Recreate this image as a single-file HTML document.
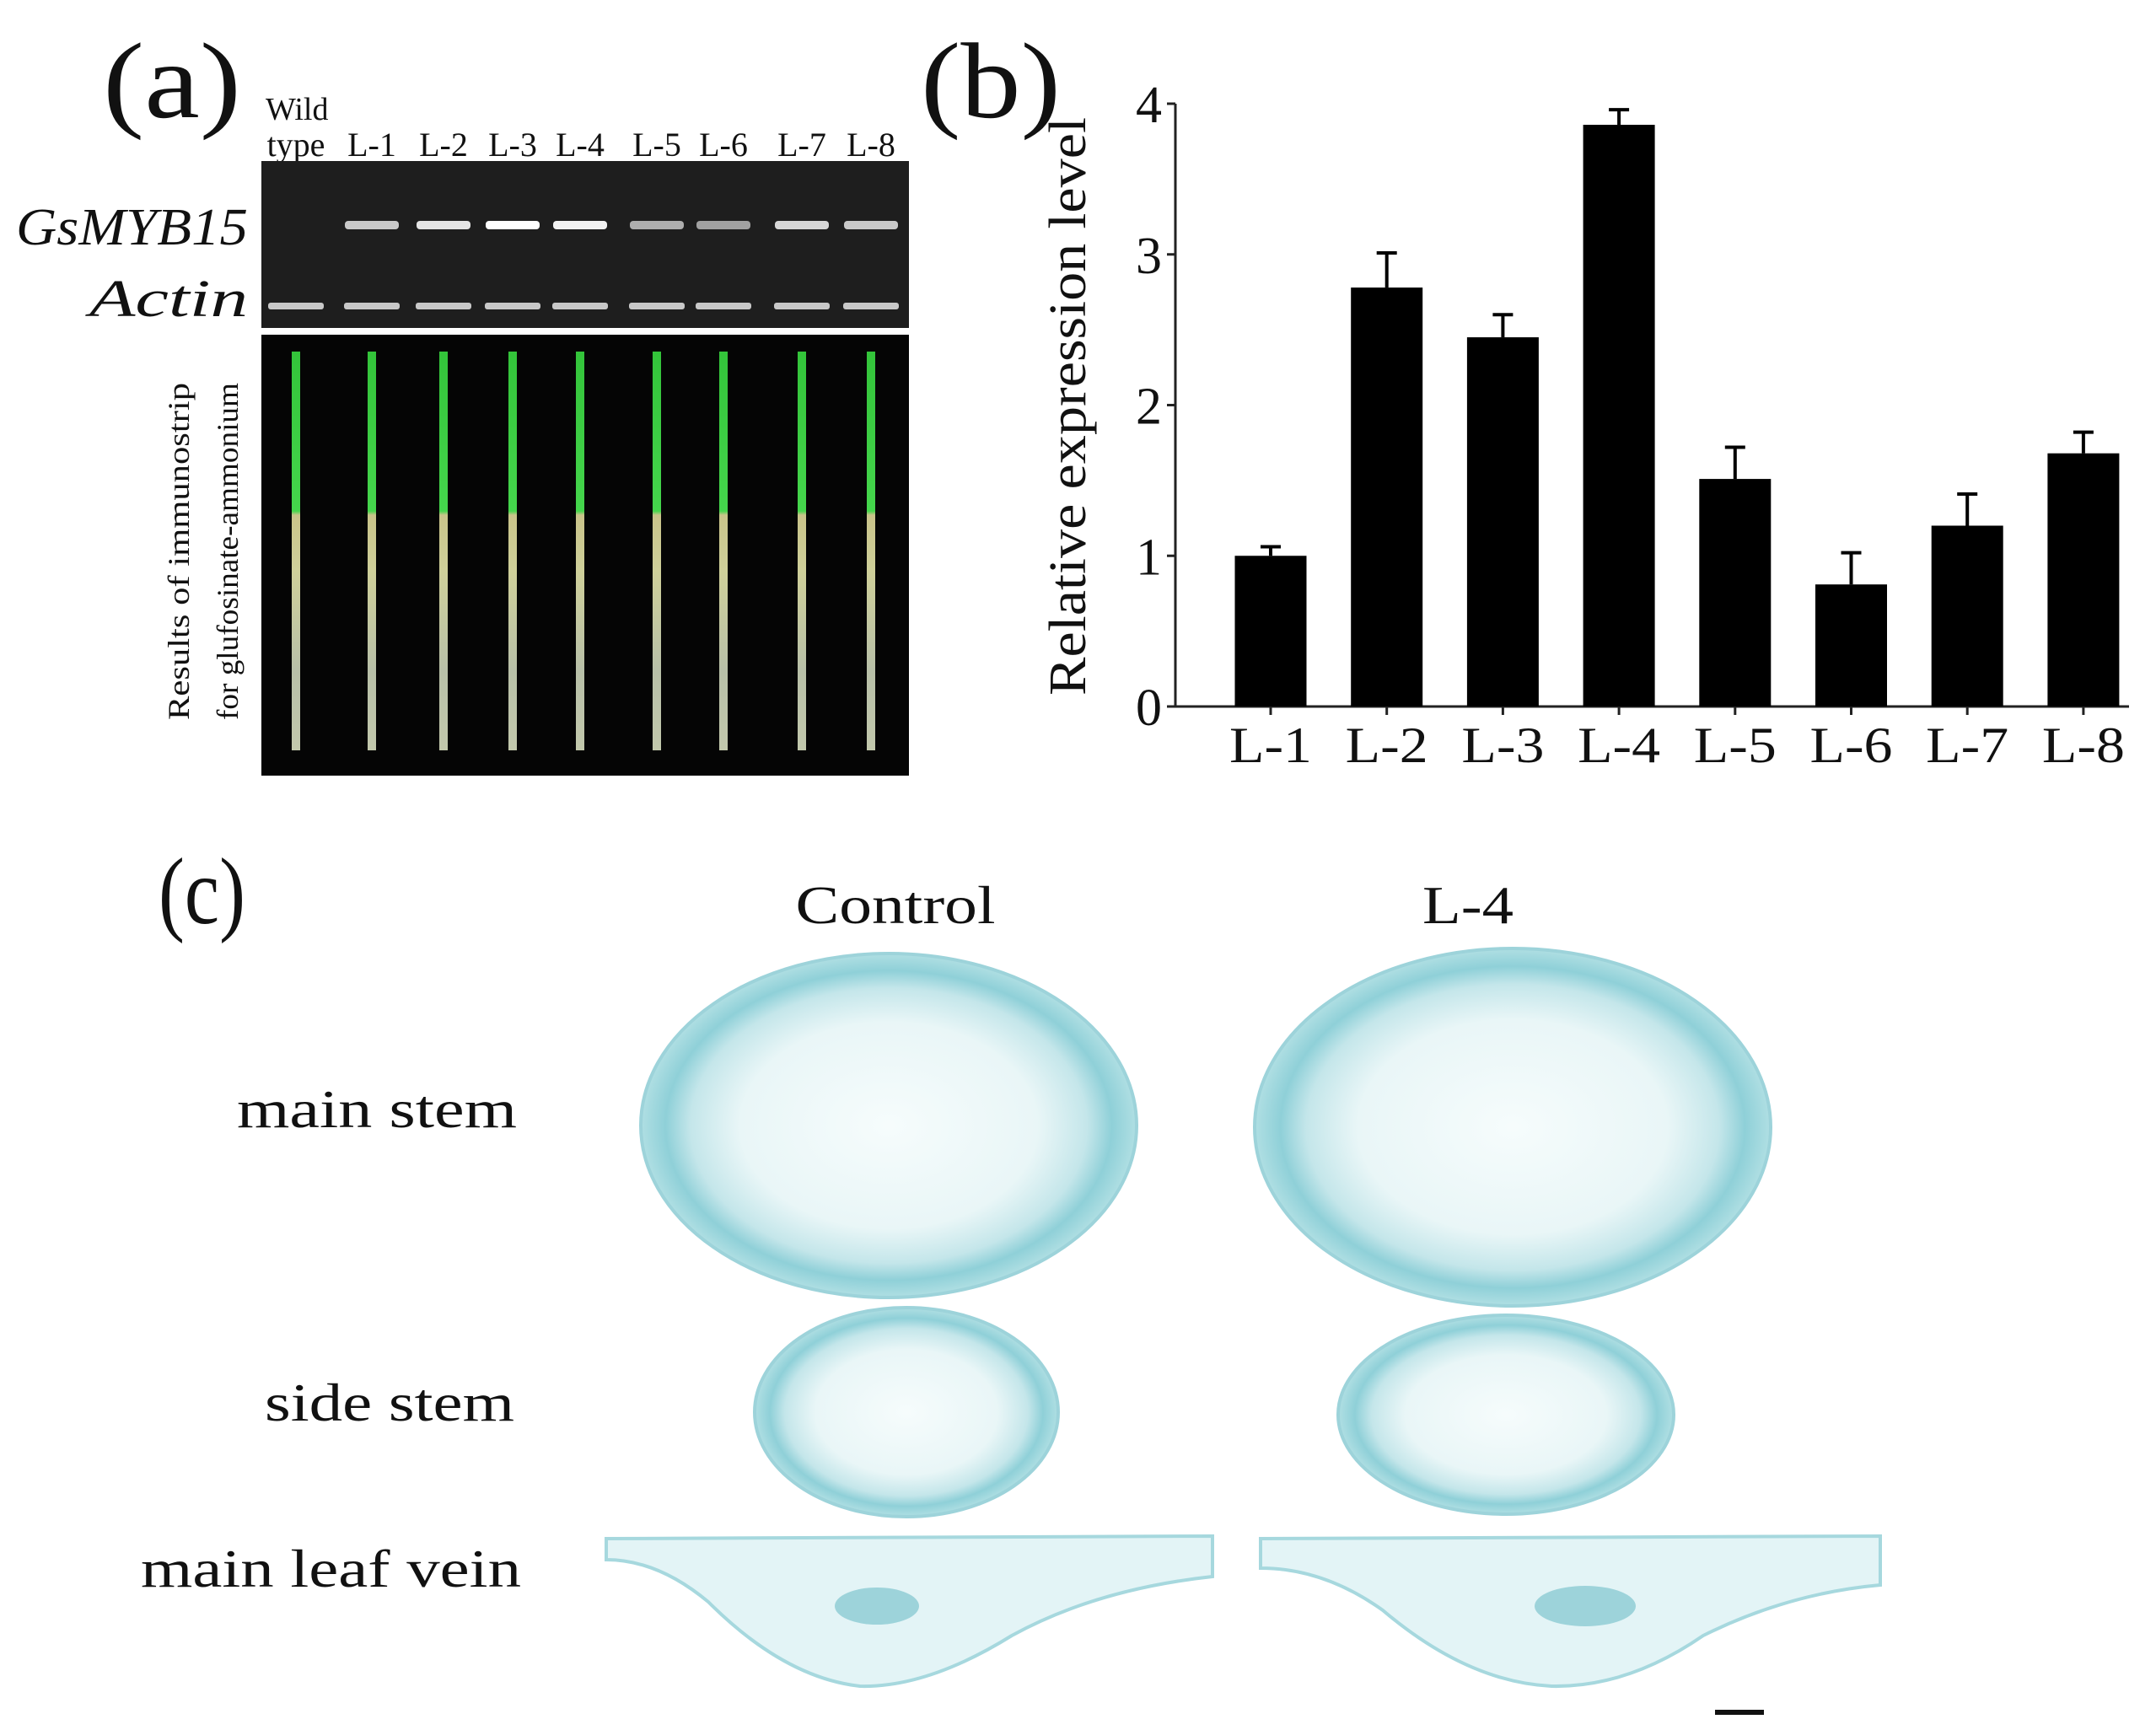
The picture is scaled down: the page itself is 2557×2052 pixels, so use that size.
<!DOCTYPE html>
<html><head><meta charset="utf-8"><style>
html,body{margin:0;padding:0;background:#fff;}
svg{display:block;}
text{font-family:"Liberation Serif",serif;fill:#111;}
</style></head><body>
<svg id="fig" width="2557" height="2052" viewBox="0 0 2557 2052" xmlns="http://www.w3.org/2000/svg">
<defs>
<radialGradient id="sec" cx="50%" cy="50%" r="50%">
<stop offset="0" stop-color="#f6fcfc"/><stop offset="0.6" stop-color="#e9f6f7"/><stop offset="0.8" stop-color="#c4e6ea"/><stop offset="0.9" stop-color="#8fd0d8"/><stop offset="1" stop-color="#b0dfe3"/>
</radialGradient>
<linearGradient id="strip" x1="0" y1="0" x2="0" y2="1">
<stop offset="0" stop-color="#33c43a"/><stop offset="0.4" stop-color="#45d64c"/><stop offset="0.41" stop-color="#c9c48a"/><stop offset="0.55" stop-color="#cfd09a"/><stop offset="0.8" stop-color="#b8c0a8"/><stop offset="1" stop-color="#c2c8ac"/>
</linearGradient>
</defs>
<text x="122" y="139" font-size="128" textLength="164" lengthAdjust="spacingAndGlyphs">(a)</text>
<text x="315" y="142" font-size="38">Wild</text>
<g id="lanes" font-size="40"></g>
<rect x="310" y="191" width="768" height="198" fill="#1e1e1e"/>
<g id="bands"></g>
<text x="294" y="290" font-size="62" font-style="italic" text-anchor="end" textLength="275" lengthAdjust="spacingAndGlyphs">GsMYB15</text>
<text x="294" y="375" font-size="62" font-style="italic" text-anchor="end" textLength="188" lengthAdjust="spacingAndGlyphs">Actin</text>
<rect x="310" y="397" width="768" height="523" fill="#050505"/>
<g id="strips"></g>
<text transform="translate(224,654) rotate(-90)" font-size="36" text-anchor="middle" textLength="400" lengthAdjust="spacingAndGlyphs">Results of immunostrip</text>
<text transform="translate(282,654) rotate(-90)" font-size="36" text-anchor="middle" textLength="400" lengthAdjust="spacingAndGlyphs">for glufosinate-ammonium</text>
<text x="1092" y="139" font-size="128" textLength="166" lengthAdjust="spacingAndGlyphs">(b)</text>
<g id="chart"></g>
<text x="188" y="1095" font-size="112" textLength="103" lengthAdjust="spacingAndGlyphs">(c)</text>
<text x="1062" y="1095" font-size="64" text-anchor="middle" textLength="237" lengthAdjust="spacingAndGlyphs">Control</text>
<text x="1741" y="1095" font-size="64" text-anchor="middle" textLength="108" lengthAdjust="spacingAndGlyphs">L-4</text>
<text x="613" y="1337" font-size="64" text-anchor="end" textLength="332" lengthAdjust="spacingAndGlyphs">main stem</text>
<text x="610" y="1685" font-size="64" text-anchor="end" textLength="296" lengthAdjust="spacingAndGlyphs">side stem</text>
<text x="618" y="1882" font-size="64" text-anchor="end" textLength="451" lengthAdjust="spacingAndGlyphs">main leaf vein</text>
<ellipse cx="1054" cy="1335" rx="294" ry="204" fill="url(#sec)" stroke="#9dd3da" stroke-width="4"/>
<ellipse cx="1794" cy="1337" rx="306" ry="212" fill="url(#sec)" stroke="#9dd3da" stroke-width="4"/>
<ellipse cx="1075" cy="1675" rx="180" ry="124" fill="url(#sec)" stroke="#9dd3da" stroke-width="4"/>
<ellipse cx="1786" cy="1678" rx="199" ry="118" fill="url(#sec)" stroke="#9dd3da" stroke-width="4"/>
<path d="M719 1825 L1438 1822 L1438 1870 Q1300 1885 1200 1940 Q1100 2002 1020 2000 Q930 1990 840 1900 Q780 1850 719 1850 Z" fill="#e3f4f6" stroke="#a6d8de" stroke-width="4"/>
<ellipse cx="1040" cy="1905" rx="50" ry="22" fill="#9dd3da"/>
<path d="M1495 1825 L2230 1822 L2230 1880 Q2120 1890 2020 1940 Q1930 2002 1840 2000 Q1740 1995 1640 1910 Q1570 1860 1495 1860 Z" fill="#e3f4f6" stroke="#a6d8de" stroke-width="4"/>
<ellipse cx="1880" cy="1905" rx="60" ry="24" fill="#9dd3da"/>
<rect x="2034" y="2028" width="58" height="6" fill="#111"/>
</svg>
<script>
const NS="http://www.w3.org/2000/svg";
const categories=["L-1","L-2","L-3","L-4","L-5","L-6","L-7","L-8"];
const values=[1.00,2.78,2.45,3.86,1.51,0.81,1.20,1.68];
const errors=[0.06,0.23,0.15,0.10,0.21,0.21,0.21,0.14];
const yTicks=[0,1,2,3,4];
const laneLabels=["type","L-1","L-2","L-3","L-4","L-5","L-6","L-7","L-8"];
const bandIntensity=[0,0.6,0.8,1,0.9,0.4,0.3,0.7,0.6];
function mk(tag,attrs,parent){const e=document.createElementNS(NS,tag);for(const k in attrs)e.setAttribute(k,attrs[k]);parent.appendChild(e);return e;}
const x0=1394,x1=2525,yb=838,yt=123,ymax=4;
const y=v=>yb-(v/ymax)*(yb-yt);
const step=137.7, first=1507;
const x=i=>first+i*step;
const chart=document.getElementById('chart');
const ax=mk('path',{d:`M${x0} ${yt} L${x0} ${yb} L${x1} ${yb}`,fill:'none',stroke:'#222','stroke-width':3},chart);


yTicks.forEach(t=>{
 const l=mk('line',{x1:x0-10,x2:x0,y1:y(t),y2:y(t),stroke:'#222','stroke-width':3},chart);
 
 
 const tx=mk('text',{x:x0-16,y:y(t)+22,'font-size':62,'text-anchor':'end'},chart);
 tx.textContent=t;
 
 
});
const yt2=mk('text',{transform:`translate(1287,482) rotate(-90)`,'font-size':62,'text-anchor':'middle',textLength:686,lengthAdjust:'spacingAndGlyphs'},chart);
yt2.textContent="Relative expression level";


categories.forEach((c,i)=>{
 const cx=x(i),w=85;
 const b=mk('rect',{x:cx-w/2,y:y(values[i]),width:w,height:yb-y(values[i]),fill:'#000'},chart);
 
 
 const e=mk('path',{d:`M${cx} ${y(values[i])} L${cx} ${y(values[i]+errors[i])} M${cx-12} ${y(values[i]+errors[i])} L${cx+12} ${y(values[i]+errors[i])}`,stroke:'#000','stroke-width':4},chart);
 
 
 const tk=mk('line',{x1:cx,x2:cx,y1:yb,y2:yb+10,stroke:'#222','stroke-width':3},chart);
 
 
 const t=mk('text',{x:cx,y:904,'font-size':60,'text-anchor':'middle',textLength:98,lengthAdjust:'spacingAndGlyphs'},chart);
 t.textContent=c;
 
 
});
const laneX=[351,441,526,608,688,779,858,951,1033];
const lanes=document.getElementById('lanes'),bands=document.getElementById('bands'),strips=document.getElementById('strips');
laneLabels.forEach((l,i)=>{
 const t=mk('text',{x:laneX[i],y:185,'text-anchor':'middle'},lanes);
 t.textContent=l;
 
 
 if(bandIntensity[i]>0){const g=Math.round(120+135*bandIntensity[i]);
  const b=mk('rect',{x:laneX[i]-32,y:262,width:64,height:10,rx:4,fill:`rgb(${g},${g},${g})`},bands);
  
  }
 const a=mk('rect',{x:laneX[i]-33,y:359,width:66,height:8,rx:3,fill:'#c8c8c8'},bands);
 
 
 const s=mk('rect',{x:laneX[i]-5,y:417,width:10,height:473,fill:'url(#strip)'},strips);
 
 
});
</script>
</body></html>
